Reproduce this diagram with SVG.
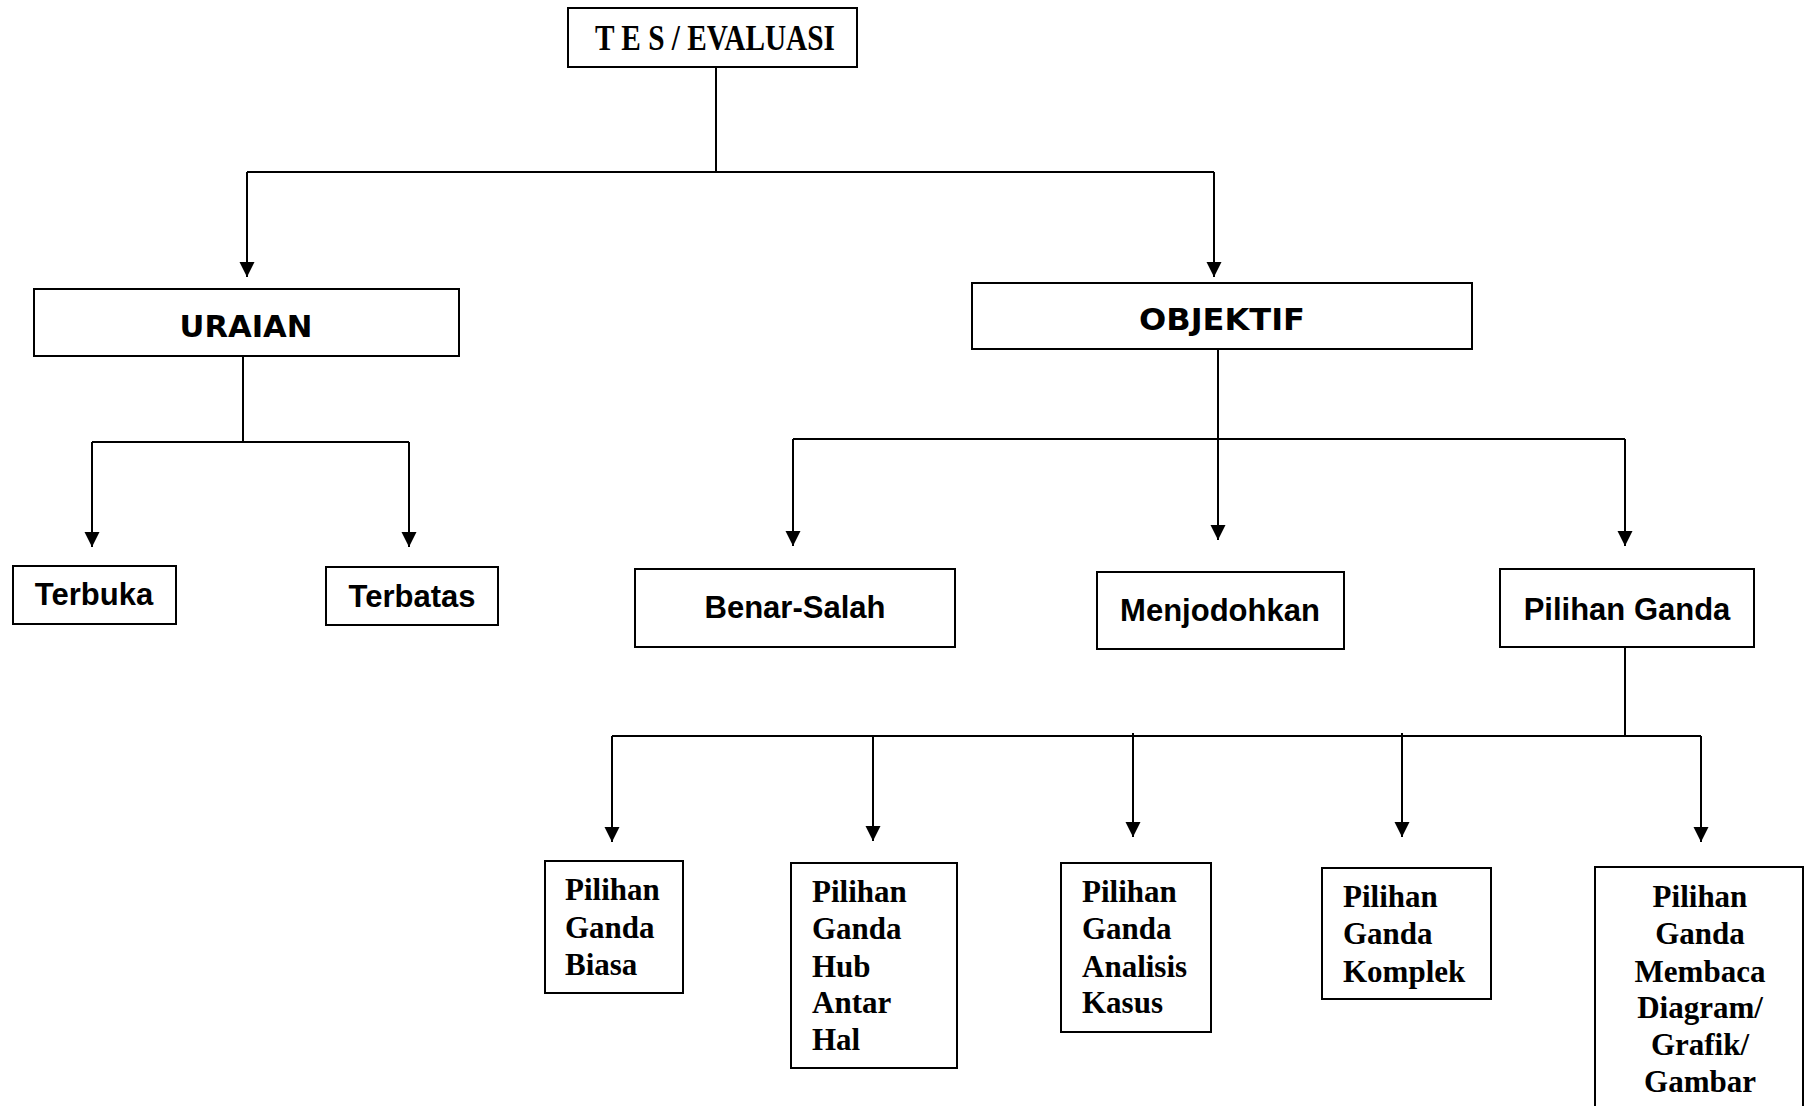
<svg xmlns="http://www.w3.org/2000/svg" width="1807" height="1106" viewBox="0 0 1807 1106">
<style>
.box{fill:#fff;stroke:#000;stroke-width:2}
.con{fill:none;stroke:#000;stroke-width:2}
.arr{marker-end:url(#ah)}
.sans{font-family:"Liberation Sans",Arial,sans-serif;font-weight:bold;font-size:31px;fill:#000}
.comic{font-family:"DejaVu Sans","Liberation Sans",sans-serif;font-weight:bold;font-size:30px;fill:#000}
.serif{font-family:"Liberation Serif","Times New Roman",serif;font-weight:bold;font-size:31px;fill:#000}
.title{font-size:35px}
</style>
<defs>
<marker id="ah" markerUnits="userSpaceOnUse" markerWidth="16" markerHeight="16" refX="15" refY="7.5" orient="auto">
<path d="M0,0 L15,7.5 L0,15 Z" fill="#000"/>
</marker>
</defs>
<rect width="1807" height="1106" fill="#fff"/>
<g id="connectors">
<path class="con" d="M716,67 V172 M247,172 H1214"/>
<path class="con arr" d="M247,172 V277"/>
<path class="con arr" d="M1214,172 V277"/>
<path class="con" d="M243,356 V442 M92,442 H409"/>
<path class="con arr" d="M92,442 V547"/>
<path class="con arr" d="M409,442 V547"/>
<path class="con" d="M793,439 H1625"/>
<path class="con arr" d="M1218,349 V540"/>
<path class="con arr" d="M793,439 V546"/>
<path class="con arr" d="M1625,439 V546"/>
<path class="con" d="M1625,647 V736 M612,736 H1701"/>
<path class="con arr" d="M612,736 V842"/>
<path class="con arr" d="M873,736 V841"/>
<path class="con arr" d="M1133,733 V837"/>
<path class="con arr" d="M1402,733 V837"/>
<path class="con arr" d="M1701,736 V842"/>
</g>
<g id="tes">
<rect class="box" x="568" y="8" width="289" height="59"/>
<text class="serif title" x="715" y="50" text-anchor="middle" textLength="240" lengthAdjust="spacingAndGlyphs">T E S / EVALUASI</text>
</g>
<g id="uraian">
<rect class="box" x="34" y="289" width="425" height="67"/>
<text class="comic" x="246" y="337" text-anchor="middle" textLength="133" lengthAdjust="spacingAndGlyphs">URAIAN</text>
</g>
<g id="objektif">
<rect class="box" x="972" y="283" width="500" height="66"/>
<text class="comic" x="1222" y="330" text-anchor="middle" textLength="166" lengthAdjust="spacingAndGlyphs">OBJEKTIF</text>
</g>
<g id="terbuka">
<rect class="box" x="13" y="566" width="163" height="58"/>
<text class="sans" x="94" y="605" text-anchor="middle">Terbuka</text>
</g>
<g id="terbatas">
<rect class="box" x="326" y="567" width="172" height="58"/>
<text class="sans" x="412" y="607" text-anchor="middle">Terbatas</text>
</g>
<g id="benar-salah">
<rect class="box" x="635" y="569" width="320" height="78"/>
<text class="sans" x="795" y="618" text-anchor="middle">Benar-Salah</text>
</g>
<g id="menjodohkan">
<rect class="box" x="1097" y="572" width="247" height="77"/>
<text class="sans" x="1220" y="621" text-anchor="middle">Menjodohkan</text>
</g>
<g id="pilihan-ganda">
<rect class="box" x="1500" y="569" width="254" height="78"/>
<text class="sans" x="1627" y="620" text-anchor="middle">Pilihan Ganda</text>
</g>
<g id="pg-biasa">
<rect class="box" x="545" y="861" width="138" height="132"/>
<text class="serif" x="565" y="900">Pilihan</text>
<text class="serif" x="565" y="938">Ganda</text>
<text class="serif" x="565" y="975">Biasa</text>
</g>
<g id="pg-hub">
<rect class="box" x="791" y="863" width="166" height="205"/>
<text class="serif" x="812" y="902">Pilihan</text>
<text class="serif" x="812" y="939">Ganda</text>
<text class="serif" x="812" y="977">Hub</text>
<text class="serif" x="812" y="1013">Antar</text>
<text class="serif" x="812" y="1050">Hal</text>
</g>
<g id="pg-analisis">
<rect class="box" x="1061" y="863" width="150" height="169"/>
<text class="serif" x="1082" y="902">Pilihan</text>
<text class="serif" x="1082" y="939">Ganda</text>
<text class="serif" x="1082" y="977">Analisis</text>
<text class="serif" x="1082" y="1013">Kasus</text>
</g>
<g id="pg-komplek">
<rect class="box" x="1322" y="868" width="169" height="131"/>
<text class="serif" x="1343" y="907">Pilihan</text>
<text class="serif" x="1343" y="944">Ganda</text>
<text class="serif" x="1343" y="982">Komplek</text>
</g>
<g id="pg-membaca">
<rect class="box" x="1595" y="867" width="208" height="260"/>
<text class="serif" x="1700" y="907" text-anchor="middle">Pilihan</text>
<text class="serif" x="1700" y="944" text-anchor="middle">Ganda</text>
<text class="serif" x="1700" y="982" text-anchor="middle">Membaca</text>
<text class="serif" x="1700" y="1018" text-anchor="middle">Diagram/</text>
<text class="serif" x="1700" y="1055" text-anchor="middle">Grafik/</text>
<text class="serif" x="1700" y="1092" text-anchor="middle">Gambar</text>
</g>
</svg>
